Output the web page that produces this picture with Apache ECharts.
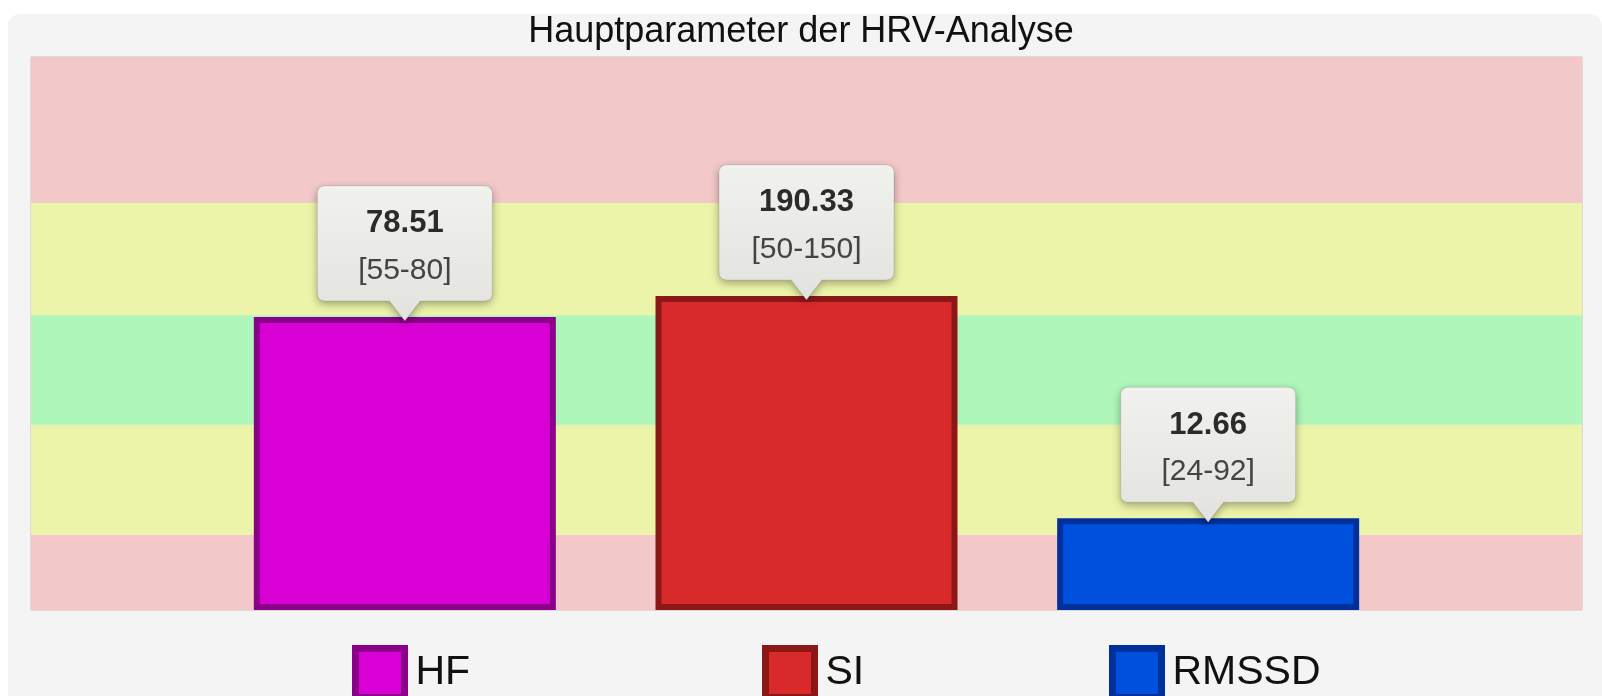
<!DOCTYPE html>
<html>
<head>
<meta charset="utf-8">
<style>
html, body {
    margin: 0;
    padding: 0;
    background: #fff;
}
#panel {
    position: absolute;
    left: 8px;
    top: 14px;
    width: 1594px;
    height: 682px;
    background: #f4f4f4;
    border-radius: 12px 12px 0 0;
}
#main {
    position: absolute;
    left: 0;
    top: 0;
    width: 1602px;
    height: 696px;
}
</style>
</head>
<body>
<div id="panel"></div>
<div id="main"></div>
<script src="https://cdn.jsdelivr.net/npm/echarts@6/dist/echarts.min.js"></script>
<script>

var names = ['HF', 'SI', 'RMSSD'];
// measured values and their reference ranges (shown in the callouts)
var values = [78.51, 190.33, 12.66];
var rangeLow = [55, 50, 24];
var rangeHigh = [80, 150, 92];
// bar heights as drawn, in percent of the plot height
var levels = [53.0, 56.8, 16.6];
// background zones, percent of plot height, bottom to top
var zoneEdges = [0, 13.6, 33.5, 53.3, 73.6, 100];
var zoneColors = ['#f2c8c8', '#ecf4a9', '#aef6b9', '#ecf4a9', '#f2c8c8'];

var fillColors = ['#d900d5', '#d92a2b', '#0050de'];
var edgeColors = ['#8a0088', '#8c1717', '#00309c'];
var legendLeft = [352, 762, 1109];

var font = '"Liberation Sans", Arial, Helvetica, sans-serif';

var zones = [];
for (var z = 0; z < zoneColors.length; z++) {
    zones.push([
        { yAxis: zoneEdges[z], itemStyle: { color: zoneColors[z] } },
        { yAxis: zoneEdges[z + 1] }
    ]);
}

// callout box with a pointer at the bottom
var calloutPath = 'path://M8,0 H167 Q175,0 175,8 V107 Q175,115 167,115 H103 L87.5,135 L72,115 H8 Q0,115 0,107 V8 Q0,0 8,0 Z';

var series = names.map(function (name, i) {
    var s = {
        name: name,
        type: 'bar',
        data: [levels[i]],
        barWidth: 302,
        barGap: '33%',
        itemStyle: {
            color: fillColors[i],
            borderColor: edgeColors[i],
            borderWidth: 6
        },
        emphasis: { disabled: true },
        markPoint: {
            silent: true,
            symbol: calloutPath,
            symbolSize: [175, 135],
            symbolOffset: [0, -63.5],
            symbolKeepAspect: false,
            itemStyle: {
                color: new echarts.graphic.LinearGradient(0, 0, 0, 1, [
                    { offset: 0, color: '#f1f1ee' },
                    { offset: 1, color: '#e2e2de' }
                ]),
                borderColor: 'rgba(0,0,0,0.10)',
                borderWidth: 1,
                shadowBlur: 8,
                shadowOffsetY: 3,
                shadowColor: 'rgba(0,0,0,0.35)'
            },
            label: {
                show: true,
                position: 'inside',
                offset: [0, -6],
                formatter: function () {
                    return '{v|' + values[i].toFixed(2) + '}\n{r|[' + rangeLow[i] + '-' + rangeHigh[i] + ']}';
                },
                rich: {
                    v: {
                        fontFamily: font,
                        fontSize: 31,
                        fontWeight: 'bold',
                        color: '#2b2b2b',
                        lineHeight: 47,
                        textShadowColor: 'rgba(255,255,255,0.9)',
                        textShadowOffsetY: 1
                    },
                    r: {
                        fontFamily: font,
                        fontSize: 30,
                        color: '#444',
                        lineHeight: 47,
                        textShadowColor: 'rgba(255,255,255,0.9)',
                        textShadowOffsetY: 1
                    }
                }
            },
            data: [{ coord: [0, levels[i]] }]
        }
    };
    if (i === 0) {
        s.markArea = {
            silent: true,
            data: zones
        };
    }
    return s;
});

var legends = names.map(function (name, i) {
    return {
        left: legendLeft[i],
        top: 645,
        padding: 0,
        selectedMode: false,
        icon: 'rect',
        itemWidth: 49,
        itemHeight: 49,
        textStyle: {
            fontFamily: font,
            fontSize: 41,
            color: '#111',
            padding: [6, 0, 0, 6]
        },
        data: [{
            name: name,
            itemStyle: {
                color: fillColors[i],
                borderColor: edgeColors[i],
                borderWidth: 7
            }
        }]
    };
});

var chart = echarts.init(document.getElementById('main'));

chart.setOption({
    animation: false,
    backgroundColor: 'transparent',
    title: {
        text: 'Hauptparameter der HRV-Analyse',
        left: 'center',
        top: 14,
        padding: 0,
        textStyle: {
            fontFamily: font,
            fontSize: 36,
            fontWeight: 'normal',
            color: '#111'
        }
    },
    legend: legends,
    grid: {
        left: 31,
        right: 20,
        top: 57,
        bottom: 86,
        show: true,
        borderColor: 'rgba(170,120,120,0.45)',
        borderWidth: 1,
        backgroundColor: 'transparent'
    },
    xAxis: {
        type: 'category',
        data: ['HRV'],
        show: false
    },
    yAxis: {
        type: 'value',
        min: 0,
        max: 100,
        show: false
    },
    series: series
});

</script>
</body>
</html>
